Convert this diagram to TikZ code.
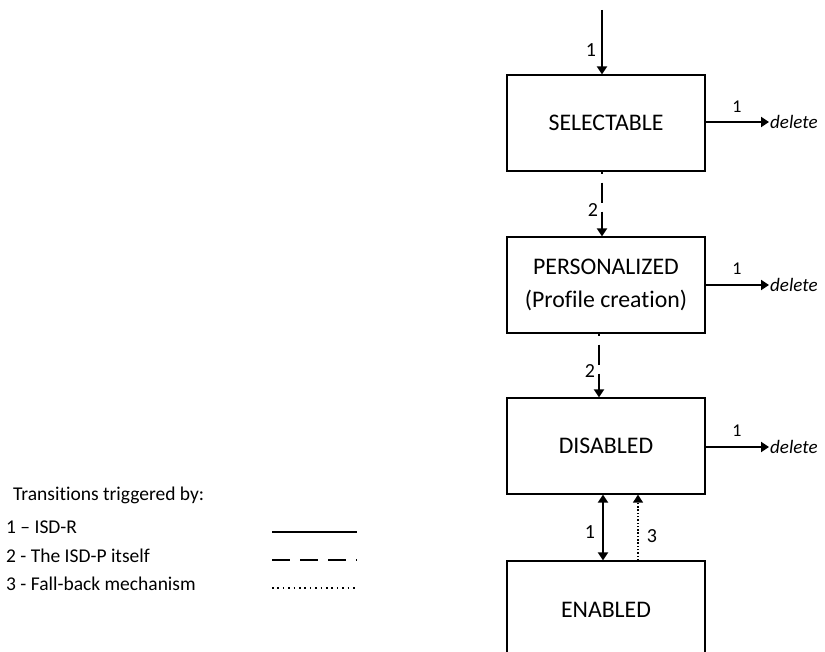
\documentclass[tikz,border=0pt]{standalone}
\usepackage{fontspec}
\setmainfont{Carlito}[Ligatures={NoCommon,NoContextual}]
\usetikzlibrary{arrows.meta}
\begin{document}
\begin{tikzpicture}[x=1pt,y=-1pt,
  state/.style={draw, line width=1.3pt, minimum width=198pt, minimum height=96pt, inner sep=0pt, align=center, font=\fontsize{23.8}{33}\selectfont},
  conn/.style={line width=2pt, -{Triangle[length=8pt,width=10pt]}},
  dashconn/.style={conn, dash pattern=on 20pt off 9pt, dash phase=18pt},
  dotconn/.style={conn, line width=1.5pt, dash pattern=on 1.5pt off 1.8pt},
  lbl/.style={font=\fontsize{20}{22}\selectfont, inner sep=0pt},
  dlbl/.style={font=\fontsize{18}{20}\selectfont, inner sep=0pt},
  deltext/.style={font=\fontsize{19}{22}\selectfont\itshape, inner sep=1pt, anchor=west},
  legtext/.style={font=\fontsize{19.5}{22}\selectfont, inner sep=0pt, anchor=base west},
  legline/.style={line width=2pt}
]
\useasboundingbox (0,0) rectangle (825,652);
\begin{scope}
\clip (0,0) rectangle (825,652);
\node[state] (sel) at (606,123) {SELECTABLE};
\node[state] (pers) at (606,285) {PERSONALIZED\\(Profile creation)};
\node[state] (dis) at (606,446) {DISABLED};
\node[state, minimum height=98pt] (en) at (606,610) {ENABLED};
\end{scope}

% entry
\coordinate (top) at (602,10);
\draw[conn] (top) -- (top |- sel.north);
\node[lbl] at (591,50) {1};

% dashed transitions
\draw[dashconn] (602,0 |- sel.south) -- (602,0 |- pers.north);
\node[lbl] at (593,210) {2};
\draw[dashconn] (599,0 |- pers.south) -- (599,0 |- dis.north);
\node[lbl] at (590,371) {2};

% delete arrows
\node[deltext] (d1) at (769,122) {delete};
\draw[conn] (sel.east |- d1) -- (d1.west);
\node[dlbl] at (737,107) {1};
\node[deltext] (d2) at (769,285) {delete};
\draw[conn] (pers.east |- d2) -- (d2.west);
\node[dlbl] at (737,269) {1};
\node[deltext] (d3) at (769,447) {delete};
\draw[conn] (dis.east |- d3) -- (d3.west);
\node[dlbl] at (737,431) {1};

% disabled <-> enabled
\draw[conn, {Triangle[length=8pt,width=10pt]}-{Triangle[length=8pt,width=10pt]}] (603,0 |- dis.south) -- (603,0 |- en.north);
\node[lbl] at (590,532) {1};
\draw[dotconn] (638,0 |- en.north) -- (638,0 |- dis.south);
\node[lbl] at (652,536) {3};

% legend
\node[legtext] (lt) at (13,500) {Transitions triggered by:};
\node[legtext] (l1) at (6,533) {1 – ISD-R};
\node[legtext] (l2) at (6,562) {2 - The ISD-P itself};
\node[legtext] (l3) at (6,590) {3 - Fall-back mechanism};
\draw[legline] (272,532) -- (357,532);
\draw[legline, dash pattern=on 18pt off 10pt] (272,560) -- (357,560);
\draw[line width=1.6pt, dash pattern=on 1.6pt off 3.8pt] (272,588) -- (357,588);
\end{tikzpicture}
\end{document}
